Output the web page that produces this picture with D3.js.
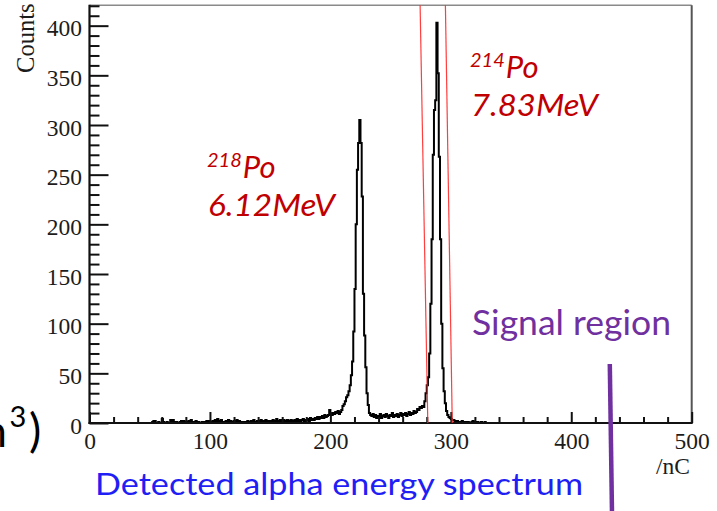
<!DOCTYPE html>
<html>
<head>
<meta charset="utf-8">
<script src="https://cdn.jsdelivr.net/npm/d3@7"></script>
<style>
  html, body { margin: 0; padding: 0; background: #fff; }
  svg { display: block; }
</style>
</head>
<body>
<svg id="chart" width="717" height="511"></svg>
<script>
// Charge spectrum: 500 bins of 1 nC from 0 to 500.
// Counts are listed from bin 40 upward; every other bin is empty.
const binWidth = 1;
const firstBin = 40;
const counts = [
  // 40-59
  0,0,0,0,0,0,0,0,0,0, 0,0,1,2,2,0,0,1,0,0,
  // 60-79
  4,1,0,0,1,0,0,3,2,3, 1,0,1,0,0,1,2,1,2,0,
  // 80-99
  1,0,2,1,3,1,0,1,2,1, 1,0,0,1,0,1,0,2,1,2,
  // 100-119
  0,1,2,0,3,1,4,2,1,3, 1,0,1,2,0,3,1,2,1,0,
  // 120-139
  2,1,3,1,2,0,1,0,1,0, 1,2,0,1,2,1,3,1,0,2,
  // 140-159
  1,2,3,1,2,1,3,2,1,2, 1,2,3,1,2,4,2,1,3,2,
  // 160-179
  2,3,1,2,3,2,1,3,2,2, 3,2,4,1,3,2,3,4,2,3,
  // 180-199
  3,4,2,5,3,4,3,5,4,6, 4,6,5,7,5,8,6,7,8,13,
  // 200-209
  9,8,10,9,11,10,12,9,11,13,
  // 210-233  (218Po peak)
  17,19,22,26,28,32,38,48,62,92, 135,200,255,282,305,282,228,130,88,56, 30,18,10,8,
  // 234-275
  7,9,6,8,5,7,6,9,5,7, 8,6,9,7,5,8,7,10,6,8, 7,9,6,8,10,7,9,8,10,7, 9,11,8,10,9,12,10,11,14,13, 16,15,
  // 276-303  (214Po peak)
  17,16,22,30,38,46,70,120,185,270, 315,325,403,352,268,185,100,55,32,20, 12,8,6,5,4,3,3,2,
  // 304-339
  1,2,1,0,1,2,1,0,1,0, 1,0,0,1,2,1,0,1,1,0, 0,1,0,0,1,0,0,0,0,0, 0,0,0,0,0,0
];
const nBins = 500;

const xMajorTicks = [0, 100, 200, 300, 400, 500];
const xMinorStep = 20;
const yMajorTicks = [0, 50, 100, 150, 200, 250, 300, 350, 400];
const yMinorStep = 10;

const xTitle = "/nC";
const yTitle = "Counts";

// Selection window around the 214Po peak: [charge at 0 counts, charge at top of frame]
const windowEdges = [[280.9, 274.5], [301.2, 295.5]];
// Start of the signal region (charge at the line's top and bottom ends)
const signalCut = [432.0, 433.8];

const peakLabels = [
  { mass: "218", element: "Po", energy: "6.12MeV", x: 207, y: 178 },
  { mass: "214", element: "Po", energy: "7.83MeV", x: 470, y: 78 }
];

const svg = d3.select("#chart");
svg.append("rect").attr("width", 717).attr("height", 511).attr("fill", "#fff");

const frame = { left: 89.5, right: 691.7, top: 5.3, bottom: 423 };
const x = d3.scaleLinear().domain([0, 500]).range([frame.left, frame.right]);
const y = d3.scaleLinear().domain([0, 420.5]).range([frame.bottom, frame.top]);

const serif = "'Liberation Serif', 'Times New Roman', serif";
const sans = "Lato, 'Open Sans', sans-serif";

// Histogram as a step outline
const pts = d3.range(nBins).map(i => {
  const k = i - firstBin;
  return [i * binWidth, (k >= 0 && k < counts.length) ? counts[k] : 0];
});
pts.push([nBins * binWidth, 0]);

svg.append("clipPath").attr("id", "plotClip")
  .append("rect")
  .attr("x", frame.left).attr("y", frame.top)
  .attr("width", frame.right - frame.left).attr("height", frame.bottom - frame.top);

svg.append("path")
  .datum(pts)
  .attr("clip-path", "url(#plotClip)")
  .attr("fill", "none")
  .attr("stroke", "#000")
  .attr("stroke-width", 2)
  .attr("stroke-linejoin", "miter")
  .attr("d", d3.line().x(d => x(d[0])).y(d => y(d[1])).curve(d3.curveStepAfter));

// Frame: top and right edges are grey, axes are black
svg.append("line").attr("x1", frame.left).attr("x2", frame.right)
  .attr("y1", frame.top).attr("y2", frame.top)
  .attr("stroke", "#8a8a8a").attr("stroke-width", 1.6);
svg.append("line").attr("x1", frame.right).attr("x2", frame.right)
  .attr("y1", frame.top).attr("y2", frame.bottom)
  .attr("stroke", "#555").attr("stroke-width", 2);

// Y axis: major and minor ticks pointing into the frame
const yMinor = d3.range(0, 421, yMinorStep).filter(v => v % 50 !== 0);
const yAxisMinor = svg.append("g").attr("transform", `translate(${frame.left},0)`)
  .call(d3.axisLeft(y).tickValues(yMinor).tickSize(-10).tickFormat(""));
const yAxisMajor = svg.append("g").attr("transform", `translate(${frame.left},0)`)
  .call(d3.axisLeft(y).tickValues(yMajorTicks).tickSize(-19).tickPadding(7.5).tickFormat(d3.format("d")));

// X axis: major and minor ticks pointing up
const xMinor = d3.range(0, 501, xMinorStep).filter(v => v % 100 !== 0);
const xAxisMinor = svg.append("g").attr("transform", `translate(0,${frame.bottom})`)
  .call(d3.axisBottom(x).tickValues(xMinor).tickSize(-6).tickFormat(""));
const xAxisMajor = svg.append("g").attr("transform", `translate(0,${frame.bottom})`)
  .call(d3.axisBottom(x).tickValues(xMajorTicks).tickSize(-11).tickPadding(9).tickFormat(d3.format("d")));

[yAxisMinor, yAxisMajor, xAxisMinor, xAxisMajor].forEach(g => {
  g.select(".domain").remove();
  g.selectAll(".tick line").attr("stroke", "#111").attr("stroke-width", 2);
  g.selectAll(".tick text")
    .attr("font-family", serif).attr("font-size", 23.5).attr("fill", "#1c1c1c");
});
yAxisMajor.selectAll(".tick text").attr("dy", "0.43em");

svg.append("line").attr("x1", frame.left).attr("x2", frame.left)
  .attr("y1", frame.top - 0.5).attr("y2", frame.bottom + 1)
  .attr("stroke", "#111").attr("stroke-width", 2.2);
svg.append("line").attr("x1", frame.left - 1).attr("x2", frame.right + 1)
  .attr("y1", frame.bottom).attr("y2", frame.bottom)
  .attr("stroke", "#111").attr("stroke-width", 2.2);

// Axis titles
svg.append("text")
  .attr("transform", "translate(33.5,3.5) rotate(-90)")
  .attr("text-anchor", "end")
  .attr("font-family", serif).attr("font-size", 24.5).attr("fill", "#1c1c1c")
  .text(yTitle);
svg.append("text")
  .attr("x", 690).attr("y", 474)
  .attr("text-anchor", "end")
  .attr("font-family", serif).attr("font-size", 23.5).attr("fill", "#1c1c1c")
  .text(xTitle);

// Selection window lines
windowEdges.forEach(([atZero, atTop]) => {
  svg.append("line")
    .attr("x1", x(atZero)).attr("y1", y(0))
    .attr("x2", x(atTop)).attr("y2", y(420.5))
    .attr("stroke", "#ff2a2a").attr("stroke-width", 1.2).attr("opacity", 0.9);
});

// Peak labels
const red = "#c00000";
peakLabels.forEach(p => {
  const t = svg.append("text")
    .attr("x", p.x).attr("y", p.y)
    .attr("font-family", sans).attr("font-style", "italic").attr("fill", red);
  t.append("tspan").attr("font-size", 20).attr("dy", -11).text(p.mass);
  t.append("tspan").attr("font-size", 31).attr("dx", 1).attr("dy", 11).text(p.element);
  svg.append("text")
    .attr("x", p.x + 1).attr("y", p.y + 38)
    .attr("font-family", sans).attr("font-style", "italic").attr("font-size", 30)
    .attr("textLength", 127).attr("lengthAdjust", "spacingAndGlyphs")
    .attr("fill", red)
    .text(p.energy);
});

// Signal region marker
const purple = "#7030a0";
svg.append("text")
  .attr("x", 472).attr("y", 335)
  .attr("font-family", sans).attr("font-size", 34)
  .attr("textLength", 199).attr("lengthAdjust", "spacingAndGlyphs")
  .attr("fill", purple)
  .text("Signal region");
svg.append("line")
  .attr("x1", x(signalCut[0])).attr("y1", 364)
  .attr("x2", x(signalCut[1])).attr("y2", 511)
  .attr("stroke", purple).attr("stroke-width", 4.5);

// Caption below the axis
svg.append("text")
  .attr("x", 95).attr("y", 495)
  .attr("font-family", sans).attr("font-size", 31.5)
  .attr("textLength", 488).attr("lengthAdjust", "spacingAndGlyphs")
  .attr("fill", "#1e1ef5")
  .text("Detected alpha energy spectrum");

// Tail of the unit text from the neighbouring slide content
svg.append("text")
  .attr("x", 7).attr("y", 447)
  .attr("text-anchor", "end")
  .attr("font-family", sans).attr("font-size", 44).attr("fill", "#000")
  .text("m");
svg.append("text")
  .attr("x", 9.5).attr("y", 427)
  .attr("font-family", sans).attr("font-size", 29).attr("fill", "#000")
  .text("3");
svg.append("text")
  .attr("x", 29).attr("y", 447)
  .attr("font-family", sans).attr("font-size", 46).attr("fill", "#000")
  .text(")");
</script>
</body>
</html>
